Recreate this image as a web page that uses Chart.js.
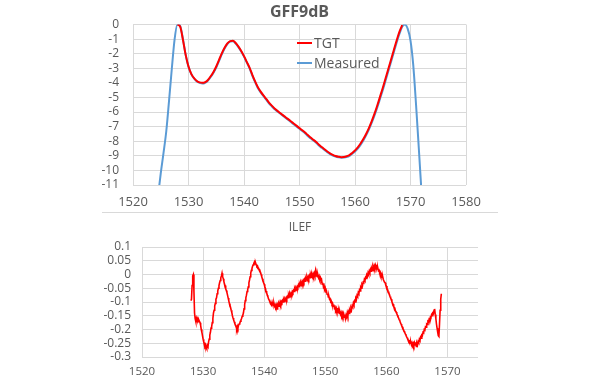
<!DOCTYPE html>
<html><head><meta charset="utf-8">
<script src="https://cdn.jsdelivr.net/npm/chart.js@4.4.1/dist/chart.umd.min.js"></script>
<style>
html,body{margin:0;padding:0;background:#fff;}
#wrap{position:relative;width:600px;height:383px;overflow:hidden;background:#fff;}
#c1{position:absolute;left:0;top:0;}
#c2{position:absolute;left:0;top:213px;}
#sep{position:absolute;left:102px;top:212px;width:396px;height:0;border-top:1px solid #d9d9d9;}
</style></head><body>
<div id="wrap"><canvas id="c1" width="600" height="212"></canvas><div id="sep"></div><canvas id="c2" width="600" height="170"></canvas></div>
<script>
// ---- Top chart: GFF9dB ----
const gffTitle = 'GFF9dB';
const gffWavelength = [1524.5,1525,1525.5,1526,1526.5,1527,1527.5,1528,1528.5,1529,1529.5,1530,1530.5,1531,1531.5,1532,1532.5,1533,1533.5,1534,1534.5,1535,1535.5,1536,1536.5,1537,1537.5,1538,1538.5,1539,1539.5,1540,1540.5,1541,1541.5,1542,1542.5,1543,1543.5,1544,1544.5,1545,1545.5,1546,1546.5,1547,1547.5,1548,1548.5,1549,1549.5,1550,1550.5,1551,1551.5,1552,1552.5,1553,1553.5,1554,1554.5,1555,1555.5,1556,1556.5,1557,1557.5,1558,1558.5,1559,1559.5,1560,1560.5,1561,1561.5,1562,1562.5,1563,1563.5,1564,1564.5,1565,1565.5,1566,1566.5,1567,1567.5,1568,1568.5,1569,1569.5,1570,1570.5,1571,1571.5,1572];
const tgtDb = [null,null,null,null,null,null,null,
 0,-0.15,-1.05,-2.1,-2.88,-3.38,-3.68,-3.87,-3.97,-4.0,-3.95,-3.8,-3.55,-3.25,-2.88,-2.43,-1.98,-1.6,-1.3,-1.14,-1.12,-1.27,-1.52,-1.82,-2.17,-2.56,-2.96,-3.45,-3.9,-4.3,-4.6,-4.86,-5.1,-5.35,-5.56,-5.75,-5.91,-6.06,-6.21,-6.36,-6.5,-6.65,-6.8,-6.95,-7.1,-7.25,-7.4,-7.58,-7.74,-7.9,-8.05,-8.24,-8.4,-8.55,-8.7,-8.83,-8.93,-9.01,-9.06,-9.09,-9.08,-9.03,
 -8.95,-8.8,-8.63,-8.42,-8.16,-7.85,-7.5,-7.1,-6.64,-6.13,-5.57,-4.96,-4.35,-3.7,-3.05,-2.4,-1.75,-1.1,-0.5,-0.05,
 null,null,null,null,null,null,null];
const measuredDb = [-11.8,-10.2,-8.8,-7.3,-5.2,-3.0,-1.0,
 0,-0.1,-1.0,-2.1,-2.9,-3.4,-3.7,-3.9,-4.0,-4.05,-4.0,-3.85,-3.6,-3.3,-2.95,-2.5,-2.05,-1.65,-1.35,-1.18,-1.15,-1.3,-1.55,-1.85,-2.2,-2.6,-3.0,-3.5,-3.95,-4.35,-4.65,-4.9,-5.15,-5.4,-5.6,-5.8,-5.95,-6.1,-6.25,-6.4,-6.55,-6.7,-6.85,-7.0,-7.15,-7.3,-7.45,-7.65,-7.8,-7.95,-8.1,-8.3,-8.45,-8.6,-8.75,-8.88,-8.98,-9.05,-9.1,-9.13,-9.12,-9.08,
 -9.0,-8.85,-8.7,-8.5,-8.25,-7.95,-7.6,-7.2,-6.75,-6.25,-5.7,-5.1,-4.5,-3.85,-3.2,-2.55,-1.9,-1.25,-0.65,-0.15,
 0,-0.3,-1.1,-2.8,-5.5,-8.5,-11.6];
const gffXTicks = [1520,1530,1540,1550,1560,1570,1580];
const gffYTicks = [0,-1,-2,-3,-4,-5,-6,-7,-8,-9,-10,-11];

// ---- Bottom chart: ILEF ----
const ilefTitle = 'ILEF';
const ilefStart = 1528.0;   // first sample wavelength (nm)
const ilefStep = 0.1;       // sample spacing (nm)
const ilefValues = [
 -0.095,-0.09,-0.04,-0.005,0.0,-0.06,-0.14,-0.16,-0.17,-0.158,
 -0.165,-0.16,-0.172,-0.165,-0.17,-0.175,-0.185,-0.2,-0.21,-0.222,
 -0.235,-0.245,-0.25,-0.26,-0.255,-0.265,-0.27,-0.258,-0.262,-0.245,
 -0.235,-0.22,-0.21,-0.195,-0.19,-0.175,-0.16,-0.14,-0.13,-0.115,
 -0.105,-0.09,-0.085,-0.07,-0.06,-0.05,-0.04,-0.03,-0.022,-0.012,
 -0.005,0.005,-0.008,-0.015,-0.025,-0.035,-0.04,-0.052,-0.058,-0.065,
 -0.075,-0.085,-0.095,-0.105,-0.112,-0.12,-0.13,-0.138,-0.15,-0.158,
 -0.165,-0.172,-0.178,-0.185,-0.19,-0.198,-0.188,-0.195,-0.185,-0.18,
 -0.178,-0.17,-0.165,-0.16,-0.152,-0.148,-0.14,-0.125,-0.11,-0.095,
 -0.085,-0.075,-0.062,-0.055,-0.045,-0.03,-0.02,-0.008,0.005,0.015,
 0.022,0.03,0.035,0.04,0.045,0.038,0.042,0.035,0.03,0.032,
 0.025,0.02,0.018,0.012,0.008,0.0,-0.008,-0.015,-0.022,-0.03,
 -0.035,-0.045,-0.05,-0.06,-0.065,-0.075,-0.08,-0.088,-0.092,-0.098,
 -0.1,-0.105,-0.11,-0.1,-0.108,-0.112,-0.105,-0.115,-0.11,-0.118,
 -0.112,-0.125,-0.11,-0.115,-0.105,-0.11,-0.1,-0.108,-0.098,-0.102,
 -0.095,-0.1,-0.092,-0.098,-0.088,-0.092,-0.085,-0.09,-0.08,-0.084,
 -0.075,-0.082,-0.07,-0.076,-0.068,-0.072,-0.062,-0.066,-0.058,-0.062,
 -0.052,-0.058,-0.048,-0.052,-0.044,-0.048,-0.038,-0.044,-0.034,-0.04,
 -0.03,-0.036,-0.026,-0.032,-0.022,-0.028,-0.018,-0.024,-0.014,-0.02,
 -0.01,-0.018,-0.008,-0.015,-0.005,-0.012,-0.002,-0.01,0.0,-0.008,
 0.002,-0.006,0.004,-0.004,0.012,-0.005,0.002,-0.008,-0.002,-0.012,
 -0.006,-0.018,-0.012,-0.025,-0.02,-0.035,-0.03,-0.045,-0.04,-0.055,
 -0.05,-0.062,-0.06,-0.072,-0.07,-0.082,-0.08,-0.09,-0.088,-0.1,
 -0.098,-0.108,-0.105,-0.115,-0.11,-0.122,-0.118,-0.128,-0.122,-0.132,
 -0.128,-0.138,-0.132,-0.142,-0.136,-0.145,-0.138,-0.148,-0.14,-0.15,
 -0.142,-0.155,-0.145,-0.16,-0.148,-0.155,-0.14,-0.15,-0.136,-0.142,
 -0.13,-0.136,-0.122,-0.128,-0.114,-0.118,-0.104,-0.11,-0.096,-0.1,
 -0.086,-0.09,-0.076,-0.08,-0.066,-0.07,-0.056,-0.06,-0.046,-0.05,
 -0.036,-0.04,-0.028,-0.03,-0.018,-0.022,-0.01,-0.014,-0.002,-0.006,
 0.006,0.0,0.012,0.006,0.018,0.012,0.022,0.016,0.028,0.02,
 0.032,0.024,0.034,0.026,0.03,0.02,0.024,0.014,0.016,0.006,
 0.008,-0.002,0.0,-0.01,-0.008,-0.018,-0.018,-0.028,-0.03,-0.038,
 -0.042,-0.05,-0.055,-0.062,-0.068,-0.072,-0.08,-0.086,-0.09,-0.098,
 -0.104,-0.108,-0.116,-0.12,-0.126,-0.132,-0.136,-0.142,-0.148,-0.152,
 -0.158,-0.164,-0.168,-0.175,-0.18,-0.186,-0.19,-0.196,-0.2,-0.206,
 -0.21,-0.216,-0.22,-0.226,-0.23,-0.236,-0.238,-0.244,-0.242,-0.25,
 -0.246,-0.255,-0.248,-0.256,-0.25,-0.258,-0.248,-0.256,-0.246,-0.262,
 -0.25,-0.256,-0.244,-0.248,-0.236,-0.24,-0.228,-0.232,-0.22,-0.222,
 -0.21,-0.212,-0.2,-0.202,-0.19,-0.192,-0.18,-0.182,-0.17,-0.172,
 -0.162,-0.164,-0.155,-0.156,-0.146,-0.15,-0.14,-0.142,-0.13,-0.125,
 -0.145,-0.16,-0.18,-0.195,-0.21,-0.222,-0.225,-0.18,-0.13,-0.09,
 -0.07];
const ilefXTicks = [1520,1530,1540,1550,1560,1570];
const ilefYTicks = [0.1,0.05,0,-0.05,-0.1,-0.15,-0.2,-0.25,-0.3];

// ---- build ----
const FONT = "'Open Sans', 'Liberation Sans', sans-serif";
const TXT = '#595959';
const GRID = '#d9d9d9';

const tgtPts = gffWavelength.map((w, i) => ({x: w, y: tgtDb[i]}));
const measPts = gffWavelength.map((w, i) => ({x: w, y: measuredDb[i]}));
const ilefPts = ilefValues.map((v, i) => ({x: Math.round((ilefStart + i * ilefStep) * 10) / 10, y: v}));

const insideLegend = {
  id: 'insideLegend',
  afterDatasetsDraw(chart, args, opts) {
    if (!opts || !opts.rows) return;
    const ctx = chart.ctx;
    ctx.save();
    chart.data.datasets.forEach((ds, i) => {
      const y = opts.rows[i];
      ctx.strokeStyle = ds.borderColor;
      ctx.lineWidth = 2;
      ctx.beginPath();
      ctx.moveTo(opts.x0, y);
      ctx.lineTo(opts.x1, y);
      ctx.stroke();
      ctx.fillStyle = TXT;
      ctx.font = opts.font;
      ctx.textAlign = 'left';
      ctx.textBaseline = 'middle';
      ctx.fillText(ds.label, opts.tx, y + 1);
    });
    ctx.restore();
  }
};

function fixTicks(list) {
  return function(scale) {
    scale.ticks = list.map(v => ({value: v}));
  };
}

new Chart(document.getElementById('c1'), {
  type: 'line',
  data: {
    datasets: [
      {label: 'TGT', data: tgtPts, borderColor: '#FF0000', borderWidth: 2, pointRadius: 0, cubicInterpolationMode: 'monotone', spanGaps: false},
      {label: 'Measured', data: measPts, borderColor: '#5B9BD5', borderWidth: 2, pointRadius: 0, cubicInterpolationMode: 'monotone'}
    ]
  },
  options: {
    responsive: false, animation: false, events: [],
    layout: {padding: {left: 93, right: 134, top: 0, bottom: 0}},
    plugins: {
      legend: {display: false}, tooltip: {enabled: false},
      title: {display: true, text: gffTitle, fullSize: false, color: TXT, font: {family: FONT, size: 16, weight: 'bold'}, padding: {top: 3, bottom: 2.3}},
      insideLegend: {rows: [43, 63], x0: 297, x1: 312, tx: 314, font: "14px " + FONT}
    },
    scales: {
      x: {type: 'linear', min: 1520, max: 1580,
        afterBuildTicks: fixTicks(gffXTicks),
        ticks: {color: TXT, font: {family: FONT, size: 13}, padding: 9, maxRotation: 0, autoSkip: false, callback: v => String(v)},
        grid: {color: GRID, drawTicks: false}, border: {display: false},
        afterFit(s) { s.height = 27; }},
      y: {type: 'linear', min: -11, max: 0,
        afterBuildTicks: fixTicks(gffYTicks),
        ticks: {color: TXT, font: {family: FONT, size: 12}, padding: 14, autoSkip: false, callback: v => String(v)},
        grid: {color: GRID, drawTicks: false}, border: {display: false},
        afterFit(s) { s.width = 40; }}
    }
  },
  plugins: [insideLegend]
});

new Chart(document.getElementById('c2'), {
  type: 'line',
  data: {
    datasets: [
      {label: 'ILEF', data: ilefPts, borderColor: '#FF0000', borderWidth: 1.6, pointRadius: 0, tension: 0}
    ]
  },
  options: {
    responsive: false, animation: false, events: [],
    layout: {padding: {left: 102, right: 102, top: 0, bottom: 0}},
    plugins: {
      legend: {display: false}, tooltip: {enabled: false},
      title: {display: true, text: ilefTitle, color: TXT, font: {family: FONT, size: 12, weight: 'normal'}, padding: {top: 7.5, bottom: 12.1}}
    },
    scales: {
      x: {type: 'linear', min: 1520, max: 1575,
        afterBuildTicks: fixTicks(ilefXTicks),
        ticks: {color: TXT, font: {family: FONT, size: 11.5}, padding: 8, maxRotation: 0, autoSkip: false, callback: v => String(v)},
        grid: {color: GRID, drawTicks: false}, border: {display: false},
        afterFit(s) { s.height = 26; }},
      y: {type: 'linear', min: -0.3, max: 0.1,
        afterBuildTicks: fixTicks(ilefYTicks),
        ticks: {color: TXT, font: {family: FONT, size: 12}, padding: 11, autoSkip: false, callback: v => String(+Number(v).toFixed(2))},
        grid: {color: GRID, drawTicks: false}, border: {display: false},
        afterFit(s) { s.width = 40; }},
      yPad: {type: 'linear', position: 'right', min: 0, max: 1, display: true,
        ticks: {display: false}, grid: {display: false, drawTicks: false}, border: {display: false},
        afterFit(s) { s.width = 20; }}
    }
  }
});
</script>
</body></html>
